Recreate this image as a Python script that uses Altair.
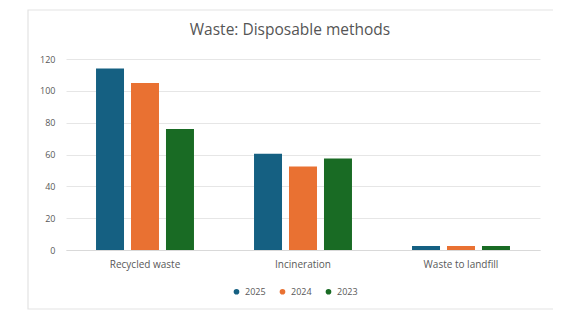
import altair as alt
import pandas as pd

categories = ["Recycled waste", "Incineration", "Waste to landfill"]
years = ["2025", "2024", "2023"]
values_2025 = [114, 60.5, 2.5]
values_2024 = [105, 52.5, 2.5]
values_2023 = [76, 57.5, 2.5]
colors = ["#156082", "#E97132", "#196B24"]
title_text = "Waste: Disposable methods"

rows = []
for i, c in enumerate(categories):
    for y, vals in zip(years, [values_2025, values_2024, values_2023]):
        rows.append({"category": c, "year": y, "value": vals[i]})
df = pd.DataFrame(rows)

FONT = "Open Sans"
W, H = 474, 191

one = pd.DataFrame({"a": [0]})
border = alt.Chart(one).mark_rect(
    fillOpacity=0, stroke="#E3E3E3", strokeWidth=1.2
).encode(
    x=alt.value(-38), x2=alt.value(W + 40), y=alt.value(-49), y2=alt.value(H + 59)
)

title = alt.Chart(one).mark_text(
    font=FONT, fontSize=15.5, color="#555555", align="center", baseline="middle"
).encode(
    x=alt.value(224), y=alt.value(-29), text=alt.value(title_text)
)

bars = alt.Chart(df).mark_bar().encode(
    x=alt.X("category:N", sort=categories, title=None,
            scale=alt.Scale(paddingInner=0.38, paddingOuter=0.19),
            axis=alt.Axis(labelAngle=0, labelFontSize=10, labelColor="#595959",
                          labelFont=FONT, ticks=False, domain=True,
                          domainColor="#D9D9D9", labelPadding=9)),
    xOffset=alt.XOffset("year:N", sort=years,
                        scale=alt.Scale(paddingInner=0.2, paddingOuter=0)),
    y=alt.Y("value:Q", title=None,
            scale=alt.Scale(domain=[0, 120]),
            axis=alt.Axis(values=[0, 20, 40, 60, 80, 100, 120], domain=False, ticks=False,
                          labelFontSize=9, labelColor="#595959", labelFont=FONT,
                          gridColor="#E6E6E6", labelPadding=11)),
    color=alt.Color("year:N", sort=years,
                    scale=alt.Scale(domain=years, range=colors),
                    legend=alt.Legend(title=None, orient="none", direction="horizontal",
                                      legendX=166, legendY=228, symbolType="circle",
                                      symbolSize=32, labelFontSize=9, labelColor="#595959",
                                      labelFont=FONT, columnPadding=12, symbolStrokeWidth=0)),
)

chart = alt.layer(border, title, bars).properties(
    width=W, height=H,
    autosize=alt.AutoSizeParams(type="none"),
    padding={"left": 58, "top": 51, "right": 13, "bottom": 60},
).configure_view(stroke=None)

chart.save("out.html", embed_options={"renderer": "svg", "actions": False})
